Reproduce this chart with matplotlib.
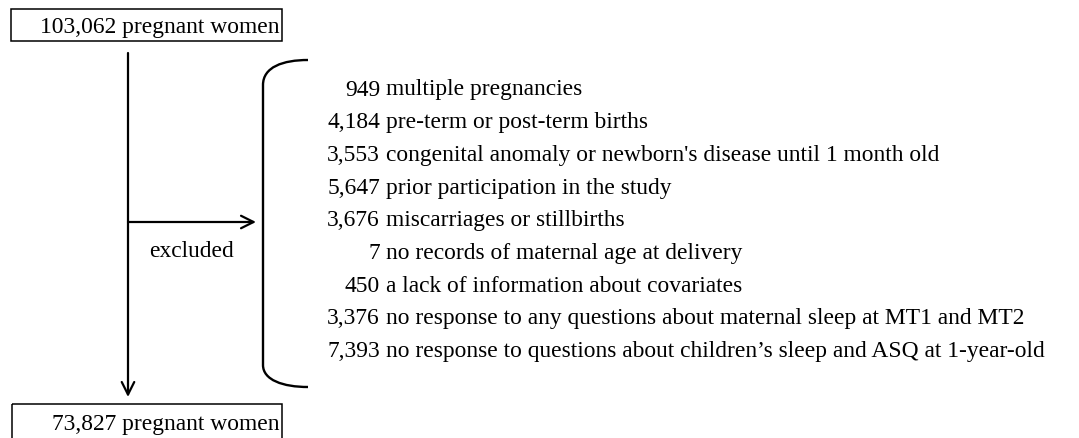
import matplotlib
matplotlib.use("Agg")
import matplotlib.pyplot as plt
from matplotlib.path import Path
from matplotlib.patches import PathPatch, Rectangle

plt.rcParams['font.family'] = ['Liberation Serif', 'DejaVu Serif']

# flow data
start_label = "103,062 pregnant women"
end_label = "73,827 pregnant women"
excluded_counts = ["949", "4,184", "3,553", "5,647", "3,676", "7", "450", "3,376", "7,393"]
excluded_reasons = [
    "multiple pregnancies",
    "pre-term or post-term births",
    "congenital anomaly or newborn's disease until 1 month old",
    "prior participation in the study",
    "miscarriages or stillbirths",
    "no records of maternal age at delivery",
    "a lack of information about covariates",
    "no response to any questions about maternal sleep at MT1 and MT2",
    "no response to questions about children\u2019s sleep and ASQ at 1-year-old",
]

fig = plt.figure(figsize=(10.79, 4.39), dpi=100)
ax = fig.add_axes([0, 0, 1, 1])
ax.set_xlim(0, 1079)
ax.set_ylim(439, 0)
ax.axis('off')

fs = 16.9

# boxes
ax.add_patch(Rectangle((11, 10), 271, 32, fill=False, lw=1.1, ec='black'))
ax.text(280, 27, start_label, ha='right', va='center', fontsize=fs)
ax.add_patch(Rectangle((12, 405), 270, 60, fill=False, lw=1.1, ec='black'))
ax.text(279, 425, end_label, ha='right', va='center', fontsize=fs)

# main arrow and side arrow
arrow = dict(arrowstyle='->,head_length=0.9,head_width=0.45', lw=1.6, color='black',
             shrinkA=0, shrinkB=0)
ax.annotate('', xy=(128, 398), xytext=(128, 54), arrowprops=arrow)
ax.annotate('', xy=(256, 223), xytext=(128, 223), arrowprops=arrow)
ax.text(191, 252, "excluded", ha='center', va='center', fontsize=fs)

# bracket
verts = [(308, 61), (283, 61), (263, 68), (263, 86),
         (263, 366), (263, 381), (283, 388), (308, 388)]
codes = [Path.MOVETO, Path.CURVE4, Path.CURVE4, Path.CURVE4,
         Path.LINETO, Path.CURVE4, Path.CURVE4, Path.CURVE4]
ax.add_patch(PathPatch(Path(verts, codes), fill=False, lw=1.7, ec='black'))

# exclusion list
y0, dy = 90, 32.7
for i, (n, reason) in enumerate(zip(excluded_counts, excluded_reasons)):
    y = y0 + i * dy
    ax.text(380, y, n, ha='right', va='center', fontsize=fs)
    ax.text(386, y, reason, ha='left', va='center', fontsize=fs)

fig.savefig("out.png", dpi=100)
